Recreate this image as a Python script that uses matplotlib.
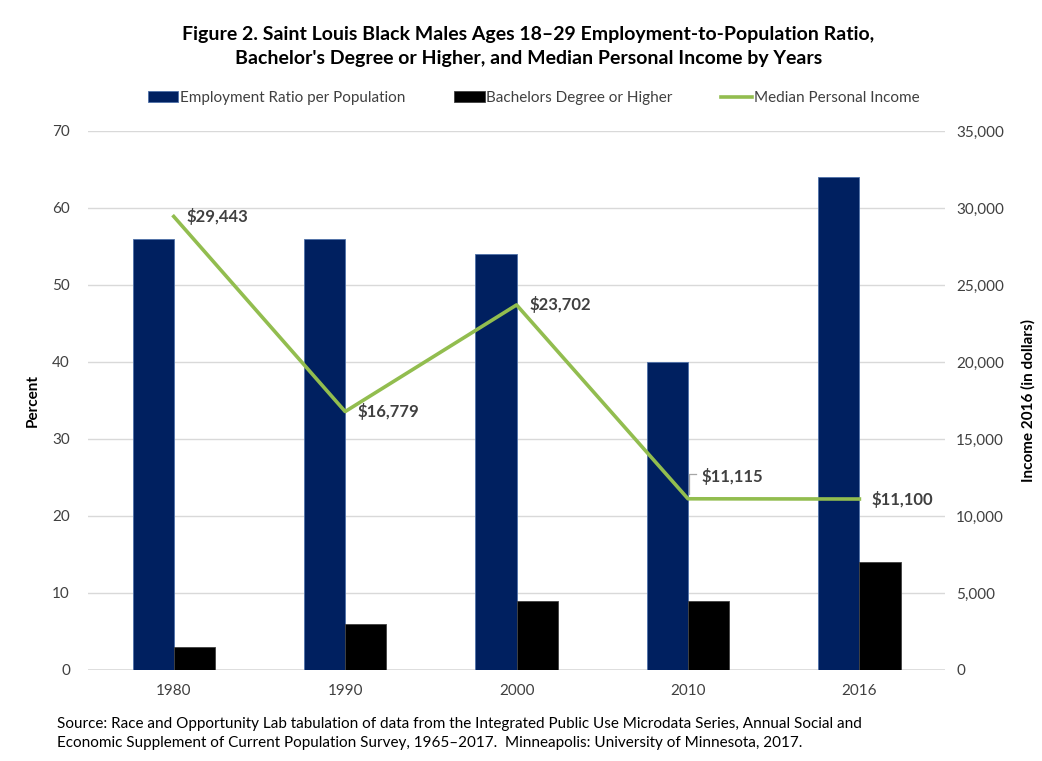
import matplotlib.pyplot as plt
import numpy as np

plt.rcParams['font.family'] = ['Lato', 'DejaVu Sans']

# data
years = ['1980', '1990', '2000', '2010', '2016']
employment = [56, 56, 54, 40, 64]
bachelors = [3, 6, 9, 9, 14]
income = [29443, 16779, 23702, 11115, 11100]
income_labels = ['$29,443', '$16,779', '$23,702', '$11,115', '$11,100']

navy = '#002060'
green = '#92BD4F'
txt = '#404040'

fig = plt.figure(figsize=(10.42, 7.61), dpi=100)
ax = fig.add_axes([0.0845, 0.1196, 0.8225, 0.7084])
ax2 = ax.twinx()

x = np.arange(len(years))
w = 0.24
b1 = ax.bar(x - w / 2, employment, w, color=navy, edgecolor='#4F71A8', linewidth=0.6,
            label='Employment Ratio per Population', zorder=3)
b2 = ax.bar(x + w / 2, bachelors, w, color='black', edgecolor='#404040', linewidth=0.6,
            label='Bachelors Degree or Higher', zorder=3)
ln, = ax2.plot(x, income, color=green, lw=2.6, label='Median Personal Income', zorder=4)

ax.set_xlim(-0.5, 4.5)
ax.set_ylim(0, 70)
ax.set_yticks(range(0, 71, 10))
ax2.set_ylim(0, 35000)
ax2.set_yticks(range(0, 35001, 5000))
ax2.set_yticklabels([f'{v:,}' for v in range(0, 35001, 5000)])
ax.set_xticks(x)
ax.set_xticklabels(years)

ax.grid(axis='y', color='#D9D9D9', lw=1, zorder=0)
ax.set_axisbelow(True)
for a in (ax, ax2):
    for s in ['top', 'left', 'right', 'bottom']:
        a.spines[s].set_visible(False)
ax.axhline(0, color='#D9D9D9', lw=1.2, zorder=2)
ax.tick_params(axis='both', length=0, labelsize=11, colors=txt, pad=10)
ax.tick_params(axis='y', pad=13)
ax2.tick_params(axis='y', length=0, labelsize=11, colors=txt, pad=8)

ax.set_ylabel('Percent', fontsize=11, fontweight='bold', color='black', labelpad=9)
ax2.set_ylabel('Income 2016 (in dollars)', fontsize=11, fontweight='bold', color='black', labelpad=12)

# data labels for income line
offsets = [(9, 0), (9, 0), (9, 0), (10, 16), (9, 0)]
for xi, yi, lab, off in zip(x, income, income_labels, offsets):
    ax2.annotate(lab, (xi, yi), xytext=off, textcoords='offset points', fontsize=12,
                 fontweight='bold', color=txt, ha='left', va='center')
# leader line for the 2010 label
ax2.plot([3.005, 3.005, 3.045], [11400, 12700, 12700], color='#A6A6A6', lw=0.9, zorder=5)

fig.text(0.507, 0.939, "Figure 2. Saint Louis Black Males Ages 18\u201329 Employment-to-Population Ratio,\n"
         "Bachelor's Degree or Higher, and Median Personal Income by Years",
         ha='center', va='center', fontsize=14, fontweight='bold', linespacing=1.55)

fig.legend([b1, b2, ln], [b1.get_label(), b2.get_label(), ln.get_label()],
           loc='center', bbox_to_anchor=(0.512, 0.871), ncol=3, frameon=False,
           fontsize=11, handlelength=2.0, handleheight=0.7, columnspacing=3.2, handletextpad=0.1,
           labelcolor=txt)

fig.text(0.055, 0.036, 'Source: Race and Opportunity Lab tabulation of data from the Integrated Public Use Microdata Series, Annual Social and\n'
         'Economic Supplement of Current Population Survey, 1965\u20132017.  Minneapolis: University of Minnesota, 2017.',
         ha='left', va='center', fontsize=11, color='black', linespacing=1.5)

fig.savefig('out.png', dpi=100)
